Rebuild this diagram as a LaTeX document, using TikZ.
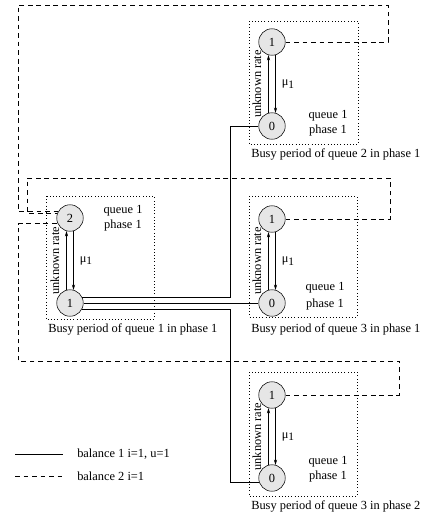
\documentclass[tikz,border=0pt]{standalone}
\usepackage{fontspec}
\setmainfont{Liberation Serif}
\usepackage{tikz}
\usetikzlibrary{arrows.meta,calc}
\definecolor{statefill}{RGB}{230,230,230}

\begin{document}
\begin{tikzpicture}[
    x=0.75pt, y=-0.75pt,
    font=\fontsize{9.3}{11}\selectfont,
    state/.style={circle, draw, fill=statefill, minimum size=26.5*0.75pt, inner sep=0pt},
    busybox/.style={draw, dotted},
    caption/.style={anchor=west, inner sep=0pt},
    info/.style={inner sep=0pt},
    rate/.style={rotate=90, inner sep=0pt},
    arrow/.style={-{Stealth[length=4pt,width=2.4pt]}},
    balance1/.style={},
    balance2/.style={dash pattern=on 3.6pt off 2.8pt},
]
    \useasboundingbox (0,0) rectangle (427,519);

    % busy period of queue 2 in phase 1
    \draw[busybox] (249,21) rectangle (358,144);
    \node[state] (q2t) at (272,42) {1};
    \node[state] (q2b) at (272,126) {0};
    \node[info] (q2q) at (328,116) {queue 1};
    \node[info] (q2p) at (328,131) {phase 1};
    \node[caption] (q2c) at (251,154) {Busy period of queue 2 in phase 1};

    % busy period of queue 1 in phase 1
    \draw[busybox] (46,196) rectangle (154,319);
    \node[state] (q1t) at (70,218) {2};
    \node[state] (q1b) at (70,303) {1};
    \node[info] (q1q) at (123,211) {queue 1};
    \node[info] (q1p) at (123,226) {phase 1};
    \node[caption] (q1c) at (48,329) {Busy period of queue 1 in phase 1};

    % busy period of queue 3 in phase 1
    \draw[busybox] (249,196) rectangle (357,317);
    \node[state] (q3t) at (272,219) {1};
    \node[state] (q3b) at (272,303) {0};
    \node[info] (q3q) at (325,288) {queue 1};
    \node[info] (q3p) at (325,305) {phase 1};
    \node[caption] (q3c) at (251,329) {Busy period of queue 3 in phase 1};

    % busy period of queue 3 in phase 2
    \draw[busybox] (249,372) rectangle (357,496);
    \node[state] (q4t) at (272,395) {1};
    \node[state] (q4b) at (272,478) {0};
    \node[info] (q4q) at (328,462) {queue 1};
    \node[info] (q4p) at (328,477) {phase 1};
    \node[caption] (q4c) at (251,506) {Busy period of queue 3 in phase 2};

    % transitions inside each busy period
    \foreach \q in {q2, q1, q3, q4} {
        \draw[arrow] (\q b.105) -- (\q t.255);
        \draw[arrow] (\q t.285) -- (\q b.75);
        \node[info] at ($(\q t)!0.5!(\q b)+(16,0)$) {μ\raisebox{-0.45ex}{\fontsize{8.5}{9}\selectfont 1}};
        \node[rate] at ($(\q t)!0.5!(\q b)+(-15,0)$) {unknown rate};
    }

    % balance 1
    \coordinate (busL) at (230,0);
    \draw[balance1] (q1b.25) -| (busL |- q2b.west) -- (q2b.west);
    \draw[balance1] (q1b.east) -- (q3b.west);
    \draw[balance1] (q1b.-30) -| (busL |- q4b.200) -- (q4b.200);

    % balance 2
    \coordinate (topR) at (388,5);
    \coordinate (topL) at (18,5);
    \coordinate (midR) at (390,178);
    \coordinate (midL) at (27,178);
    \coordinate (botR) at (399,361);
    \coordinate (botL) at (18,361);
    \draw[balance2] (q2t.east) -| (topR) -- (topL) |- (q1t.148);
    \draw[balance2] (q3t.east) -| (midR) -- (midL) |- (q1t.160);
    \draw[balance2] (q4t.east) -| (botR) -- (botL) |- (q1t.205);

    % legend
    \coordinate (leg1a) at (15,454);
    \coordinate (leg1b) at (63,454);
    \coordinate (leg2a) at (15,476);
    \coordinate (leg2b) at (63,476);
    \draw[balance1] (leg1a) -- (leg1b);
    \draw[balance2] (leg2a) -- (leg2b);
    \node[caption] (leg1) at (77,454) {balance 1 i=1, u=1};
    \node[caption] (leg2) at (77,476) {balance 2 i=1};
\end{tikzpicture}
\end{document}
